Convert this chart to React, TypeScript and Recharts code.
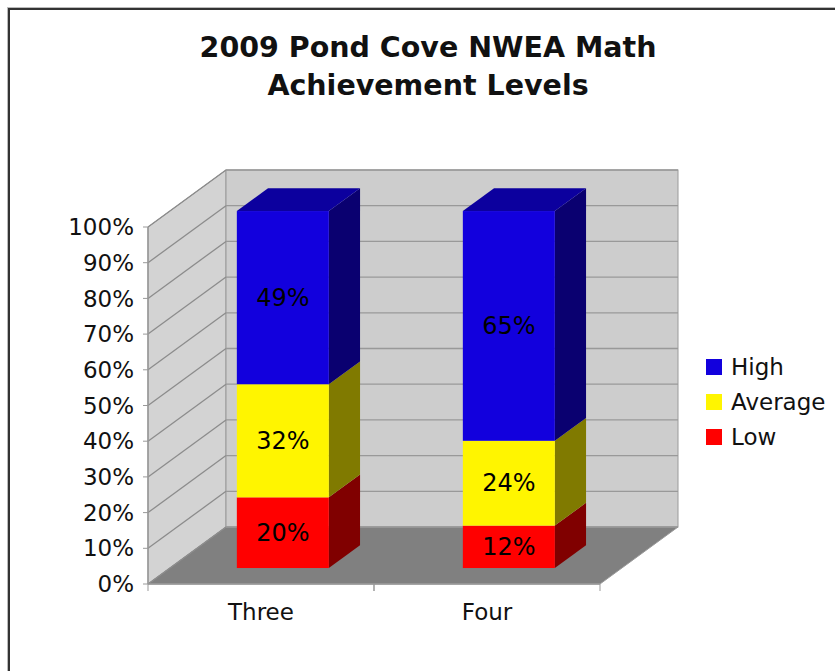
import { BarChart, Bar, XAxis, YAxis, CartesianGrid, Legend } from 'recharts'

// values (percent of students)
const CATEGORIES = ['Three', 'Four']
const LOW = [20, 12]
const AVERAGE = [32, 24]
const HIGH = [49, 65]
const Y_TICKS = [0, 0.1, 0.2, 0.3, 0.4, 0.5, 0.6, 0.7, 0.8, 0.9, 1]

const data = CATEGORIES.map((category, i) => ({
  category,
  low: LOW[i],
  average: AVERAGE[i],
  high: HIGH[i],
}))

const SERIES = [
  { key: 'low', name: 'Low', front: '#FF0000', side: '#800000', top: '#B00000' },
  { key: 'average', name: 'Average', front: '#FFF500', side: '#807A00', top: '#B3AC00' },
  { key: 'high', name: 'High', front: '#1200DD', side: '#0A0070', top: '#0C009E' },
]

// depth of the 3d box and where the bars sit inside it
const DX = 78
const DY = -57
const BAR_FRONT = 0.28
const BAR_DEPTH = 0.4
const FONT = '"DejaVu Sans", Verdana, sans-serif'

function renderGrid(props: any) {
  const { x1, y1, x2, index } = props
  const left = props.x ?? x1
  const top = props.y ?? 227
  const bottom = top + (props.height ?? 357)
  const right = left + (props.width ?? x2 - x1)
  return (
    <g key={props.key ?? `grid-${index}`}>
      {index === 0 && (
        <g>
          <polygon
            points={`${left},${bottom} ${left},${top} ${left + DX},${top + DY} ${left + DX},${bottom + DY}`}
            fill="#D3D3D3"
            stroke="#9A9A9A"
          />
          <rect
            x={left + DX}
            y={top + DY}
            width={right - left}
            height={bottom - top}
            fill="#CDCDCD"
            stroke="#9A9A9A"
          />
          <polygon
            points={`${left},${bottom} ${left + DX},${bottom + DY} ${right + DX},${bottom + DY} ${right},${bottom}`}
            fill="#808080"
            stroke="#9A9A9A"
          />
        </g>
      )}
      <line x1={x1} y1={y1} x2={x1 + DX} y2={y1 + DY} stroke="#8C8C8C" strokeWidth={1.3} />
      <line x1={x1 + DX} y1={y1 + DY} x2={x2 + DX} y2={y1 + DY} stroke="#999" strokeWidth={1.3} />
    </g>
  )
}

function Bar3D(props: any) {
  const { x, y, width, height, payload, s } = props
  if (!height) return null
  const fx = x + BAR_FRONT * DX
  const fy = y + BAR_FRONT * DY
  const bx = BAR_DEPTH * DX
  const by = BAR_DEPTH * DY
  const r = fx + width
  return (
    <g>
      <polygon
        points={`${r},${fy} ${r + bx},${fy + by} ${r + bx},${fy + height + by} ${r},${fy + height}`}
        fill={s.side}
      />
      {s.key === 'high' && (
        <polygon
          points={`${fx},${fy} ${fx + bx},${fy + by} ${r + bx},${fy + by} ${r},${fy}`}
          fill={s.top}
        />
      )}
      <rect x={fx} y={fy} width={width} height={height} fill={s.front} />
      <text
        x={fx + width / 2}
        y={fy + height / 2}
        textAnchor="middle"
        dominantBaseline="central"
        fontFamily={FONT}
        fontSize={24}
        fill="#000"
      >
        {`${payload[s.key]}%`}
      </text>
    </g>
  )
}

function CategoryTick(props: any) {
  const { x, y, payload } = props
  const half = (props.width ?? 452) / CATEGORIES.length / 2
  return (
    <g>
      <line x1={x - half} y1={y} x2={x - half} y2={y + 7} stroke="#999" />
      <line x1={x + half} y1={y} x2={x + half} y2={y + 7} stroke="#999" />
      <text x={x} y={y + 36} textAnchor="middle" fontFamily={FONT} fontSize={23} fill="#111">
        {payload.value}
      </text>
    </g>
  )
}

function LegendBox() {
  // High on top, Low at the bottom, as in the stack
  const items = [...SERIES].reverse()
  return (
    <div style={{ fontFamily: FONT, fontSize: 23, color: '#111' }}>
      {items.map((s) => (
        <div key={s.key} style={{ display: 'flex', alignItems: 'center', height: 35 }}>
          <span
            style={{ width: 16, height: 16, background: s.front, marginRight: 9, display: 'inline-block' }}
          />
          {s.name}
        </div>
      ))}
    </div>
  )
}

export default function App() {
  return (
    <div
      style={{
        position: 'absolute',
        left: 0,
        top: 0,
        width: 835,
        height: 671,
        background: '#fff',
        overflow: 'hidden',
      }}
    >
      <div
        style={{
          position: 'absolute',
          left: 8,
          top: 8,
          width: 900,
          height: 800,
          borderLeft: '2px solid #333',
          borderTop: '2px solid #333',
          boxShadow: '-1px -1px 0 #bbb',
        }}
      />
      <div
        style={{
          position: 'absolute',
          left: 0,
          top: 29,
          width: 856,
          textAlign: 'center',
          fontFamily: FONT,
          fontWeight: 'bold',
          fontSize: 28.5,
          lineHeight: '38px',
          color: '#111',
        }}
      >
        2009 Pond Cove NWEA Math
        <br />
        Achievement Levels
      </div>
      <div style={{ position: 'absolute', left: 0, top: 0 }}>
        <BarChart
          width={835}
          height={671}
          data={data}
          stackOffset="expand"
          barSize={92}
          margin={{ top: 227, right: 235, bottom: 57, left: 88 }}
        >
          <CartesianGrid vertical={false} horizontal={renderGrid} />
          <XAxis
            dataKey="category"
            height={30}
            axisLine={{ stroke: '#999', strokeWidth: 1.5 }}
            tickLine={false}
            tickSize={0}
            tickMargin={0}
            tick={<CategoryTick />}
          />
          <YAxis
            width={60}
            domain={[0, 1]}
            ticks={Y_TICKS}
            interval={0}
            tickFormatter={(v: number) => `${Math.round(v * 100)}%`}
            axisLine={{ stroke: '#999', strokeWidth: 1.5 }}
            tickLine={{ stroke: '#999' }}
            tickSize={5}
            tickMargin={9}
            tick={{ fontFamily: FONT, fontSize: 23, fill: '#111' }}
          />
          <Legend
            layout="vertical"
            align="center"
            verticalAlign="middle"
            content={<LegendBox />}
            wrapperStyle={{ left: 706, top: 349, width: 130, height: 105 }}
          />
          {SERIES.map((s) => (
            <Bar
              key={s.key}
              dataKey={s.key}
              name={s.name}
              stackId="levels"
              fill={s.front}
              isAnimationActive={false}
              shape={(p: any) => <Bar3D {...p} s={s} />}
            />
          ))}
        </BarChart>
      </div>
    </div>
  )
}
